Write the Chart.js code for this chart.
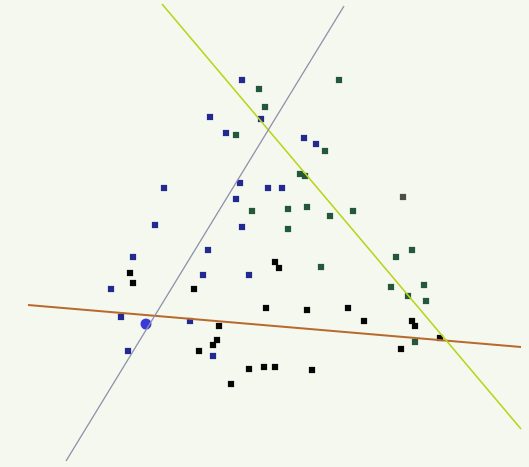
<!DOCTYPE html>
<html>
<head>
<meta charset="utf-8">
<script src="https://cdn.jsdelivr.net/npm/chart.js@4/dist/chart.umd.min.js"></script>
<style>
  html, body { margin: 0; padding: 0; background: #f4f8ef; }
  #wrap { width: 529px; height: 467px; }
</style>
</head>
<body>
<div id="wrap"><canvas id="c" width="529" height="467"></canvas></div>
<script>
// Three clusters of samples (x, y in plot units; y grows downward)
const bluePoints = [
  [242, 80], [261, 119], [210, 117], [226, 133], [304, 138], [316, 144],
  [164, 188], [240, 183], [268, 188], [282, 188], [236, 199], [155, 225],
  [242, 227], [208, 250], [133, 257], [111, 289], [203, 275], [249, 275],
  [121, 317], [190, 321], [128, 351], [213, 356]
];
const greenPoints = [
  [339, 80], [259, 89], [265, 107], [236, 135], [325, 151], [300, 174],
  [305, 176], [252, 211], [288, 209], [307, 207], [330, 216], [353, 211],
  [288, 229], [321, 267], [396, 257], [412, 250], [391, 287], [424, 285],
  [408, 296], [426, 301], [415, 342]
];
const grayPoints = [[403, 197]];
const blackPoints = [
  [130, 273], [133, 283], [194, 289], [275, 262], [279, 268], [266, 308],
  [307, 310], [348, 308], [364, 321], [219, 326], [217, 340], [213, 345],
  [199, 351], [412, 321], [415, 326], [401, 349], [440, 338], [249, 369],
  [264, 367], [275, 367], [312, 370], [231, 384]
];
// Highlighted sample
const markerPoint = [[146, 324]];
// Separating lines, each given by two end points
const lineA = [[344, 6], [66, 461]];
const lineB = [[162, 4], [521, 429]];
const lineC = [[28, 305], [521, 347]];

const toXY = arr => arr.map(([x, y]) => ({ x, y }));

function pointSet(arr, color, style, radius) {
  return {
    data: toXY(arr),
    showLine: false,
    pointStyle: style,
    pointRadius: radius,
    pointHoverRadius: radius,
    backgroundColor: color,
    borderColor: color,
    borderWidth: 0
  };
}
function lineSet(arr, color, width) {
  return {
    data: toXY(arr),
    showLine: true,
    pointRadius: 0,
    borderColor: color,
    borderWidth: width,
    backgroundColor: color,
    fill: false
  };
}

new Chart(document.getElementById('c'), {
  type: 'scatter',
  data: {
    datasets: [
      lineSet(lineA, '#8f8fab', 1.4),
      lineSet(lineB, '#b8d41a', 1.6),
      lineSet(lineC, '#b8692c', 1.8),
      pointSet(bluePoints, '#232a8f', 'rect', 4.4),
      pointSet(greenPoints, '#24583a', 'rect', 4.4),
      pointSet(grayPoints, '#4a5048', 'rect', 4.4),
      pointSet(blackPoints, '#050505', 'rect', 4.4),
      pointSet(markerPoint, '#3a3ad8', 'circle', 5.5)
    ]
  },
  options: {
    responsive: false,
    animation: false,
    clip: false,
    layout: { padding: 0, autoPadding: false },
    plugins: { legend: { display: false }, tooltip: { enabled: false } },
    scales: {
      x: { type: 'linear', min: 0, max: 529, display: false },
      y: { type: 'linear', min: 0, max: 467, reverse: true, display: false }
    }
  }
});
</script>
</body>
</html>
